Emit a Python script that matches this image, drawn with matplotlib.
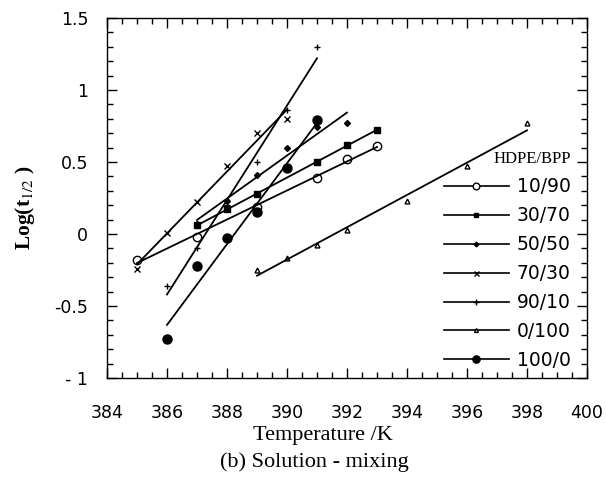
import numpy as np
import matplotlib
matplotlib.use('Agg')
import matplotlib.pyplot as plt
from matplotlib.lines import Line2D
from matplotlib.ticker import MultipleLocator

plt.rcParams['mathtext.fontset'] = 'stix'

# HDPE/BPP series: temperature (K), log(t1/2)
t_10_90 = [385, 387, 389, 391, 392, 393]
y_10_90 = [-0.18, -0.02, 0.19, 0.39, 0.52, 0.61]

t_30_70 = [387, 388, 389, 391, 392, 393]
y_30_70 = [0.06, 0.17, 0.28, 0.50, 0.62, 0.72]

t_50_50 = [387, 388, 389, 390, 391, 392]
y_50_50 = [0.07, 0.23, 0.41, 0.60, 0.74, 0.77]

t_70_30 = [385, 386, 387, 388, 389, 390]
y_70_30 = [-0.24, 0.01, 0.22, 0.47, 0.70, 0.80]

t_90_10 = [386, 387, 388, 389, 390, 391]
y_90_10 = [-0.36, -0.10, 0.20, 0.50, 0.86, 1.30]

t_0_100 = [389, 390, 391, 392, 394, 396, 398]
y_0_100 = [-0.25, -0.17, -0.08, 0.03, 0.23, 0.47, 0.77]

t_100_0 = [386, 387, 388, 389, 390, 391]
y_100_0 = [-0.73, -0.22, -0.03, 0.15, 0.46, 0.79]

labels = ['10/90', '30/70', '50/50', '70/30', '90/10', '0/100', '100/0']
temps = [t_10_90, t_30_70, t_50_50, t_70_30, t_90_10, t_0_100, t_100_0]
logs = [y_10_90, y_30_70, y_50_50, y_70_30, y_90_10, y_0_100, y_100_0]

# marker, size, face
styles = [('o', 6, 'white'), ('s', 4, 'black'), ('D', 3, 'black'),
          ('x', 4.5, 'black'), ('+', 5, 'black'), ('^', 3.5, 'white'),
          ('o', 6.5, 'black')]

fig = plt.figure(figsize=(6.06, 4.95), dpi=100)
ax = fig.add_axes([0.1766, 0.2364, 0.792, 0.7273])

handles = []
for t, y, lbl, (m, ms, fc) in zip(temps, logs, labels, styles):
  t = np.array(t, dtype=float)
  y = np.array(y, dtype=float)
  k, b = np.polyfit(t, y, 1)
  ax.plot(t, y, linestyle='none', marker=m, markersize=ms,
          markerfacecolor=fc, markeredgecolor='black', markeredgewidth=1.0)
  xx = np.array([t.min(), t.max()])
  ax.plot(xx, k * xx + b, color='black', linewidth=1.3)
  handles.append(Line2D([], [], color='black', linewidth=1.2, marker=m,
                        markersize=ms * 0.8, markerfacecolor=fc,
                        markeredgecolor='black', label=lbl))

ax.set_xlim(384, 400)
ax.set_ylim(-1, 1.5)
ax.xaxis.set_major_locator(MultipleLocator(2))
ax.xaxis.set_minor_locator(MultipleLocator(0.5))
ax.yaxis.set_major_locator(MultipleLocator(0.5))
ax.yaxis.set_minor_locator(MultipleLocator(0.1))
ax.set_yticks([-1, -0.5, 0, 0.5, 1, 1.5])
ax.set_yticklabels(['- 1', '-0.5', '0', '0.5', '1', '1.5'])
ax.tick_params(which='both', direction='in', top=True, right=True,
               width=1.0, colors='black')
ax.tick_params(which='major', length=7)
ax.tick_params(which='minor', length=4)
ax.tick_params(axis='x', which='major', pad=19)
ax.tick_params(axis='y', which='major', pad=13.5)
for lab in ax.get_xticklabels() + ax.get_yticklabels():
  lab.set_family('DejaVu Sans')
  lab.set_fontsize(12.5)
for s in ax.spines.values():
  s.set_linewidth(1.0)

leg = ax.legend(handles=handles, loc='upper right',
                bbox_to_anchor=(0.997, 0.671), frameon=False,
                handlelength=3.5, handletextpad=0.4, labelspacing=0.53,
                borderpad=0.3, alignment='right',
                prop={'family': 'DejaVu Sans', 'size': 13.5},
                title='HDPE/BPP',
                title_fontproperties={'family': 'Liberation Serif', 'size': 12})

fig.text(0.042, 0.58, r'Log(t$_{1/2}$ )', rotation=90, ha='center', va='center',
         family='Liberation Serif', fontsize=15.5, fontweight='bold')
fig.text(0.533, 0.121, 'Temperature /K', ha='center', va='center',
         family='Liberation Serif', fontsize=16)
fig.text(0.518, 0.067, '(b) Solution - mixing', ha='center', va='center',
         family='Liberation Serif', fontsize=16)

plt.savefig('out.png', dpi=100)
